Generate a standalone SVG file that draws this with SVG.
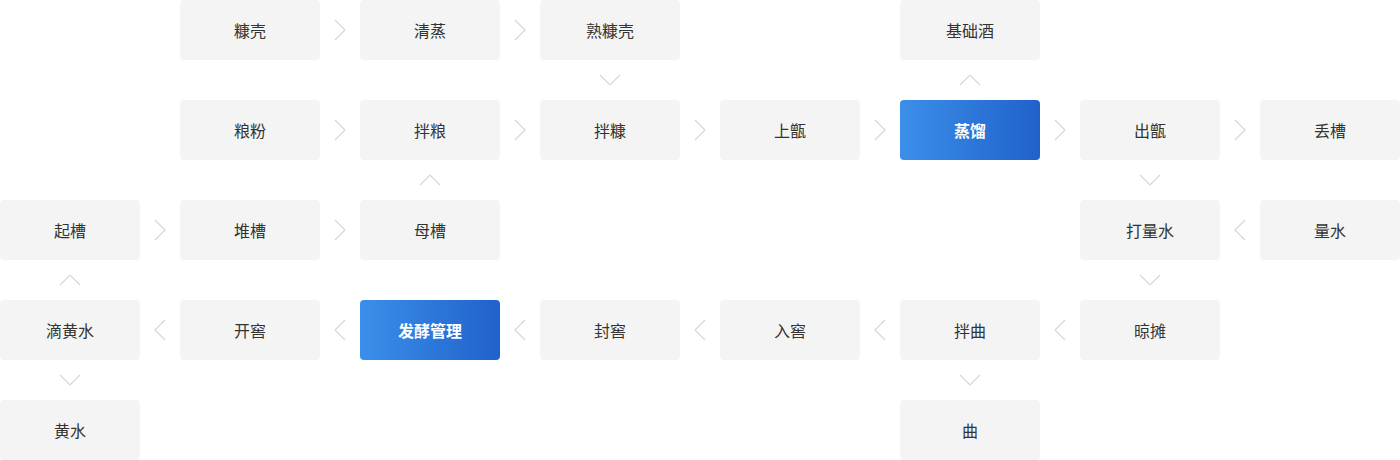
<svg xmlns="http://www.w3.org/2000/svg" width="1400" height="460" viewBox="0 0 1400 460">
<style>
.n rect{fill:#f4f4f4}
.n text{font-family:"Noto Sans CJK SC","Noto Sans",sans-serif;font-size:16px;fill:#333;text-anchor:middle;dominant-baseline:central}
.h rect{fill:url(#g)}
.h text{fill:#fff;font-weight:bold}
.c{fill:none;stroke:#d6d6d6;stroke-width:1.2}
</style>
<defs>
<linearGradient id="g" x1="0" y1="0" x2="1" y2="0">
<stop offset="0" stop-color="#3b8fe9"/>
<stop offset="1" stop-color="#2061cb"/>
</linearGradient>
<path id="r" d="M-5,-10 L5,0 L-5,10"/>
<path id="l" d="M5,-10 L-5,0 L5,10"/>
<path id="u" d="M-10,5 L0,-5 L10,5"/>
<path id="d" d="M-10,-5 L0,5 L10,-5"/>
</defs>
<g id="nodes">
<g id="n-kangke" class="n"><rect x="180" y="0" width="140" height="60" rx="4"/><text x="250" y="30">糠壳</text></g>
<g id="n-qingzheng" class="n"><rect x="360" y="0" width="140" height="60" rx="4"/><text x="430" y="30">清蒸</text></g>
<g id="n-shukangke" class="n"><rect x="540" y="0" width="140" height="60" rx="4"/><text x="610" y="30">熟糠壳</text></g>
<g id="n-jichujiu" class="n"><rect x="900" y="0" width="140" height="60" rx="4"/><text x="970" y="30">基础酒</text></g>
<g id="n-liangfen" class="n"><rect x="180" y="100" width="140" height="60" rx="4"/><text x="250" y="130">粮粉</text></g>
<g id="n-banliang" class="n"><rect x="360" y="100" width="140" height="60" rx="4"/><text x="430" y="130">拌粮</text></g>
<g id="n-bankang" class="n"><rect x="540" y="100" width="140" height="60" rx="4"/><text x="610" y="130">拌糠</text></g>
<g id="n-shangzeng" class="n"><rect x="720" y="100" width="140" height="60" rx="4"/><text x="790" y="130">上甑</text></g>
<g id="n-zhengliu" class="n h"><rect x="900" y="100" width="140" height="60" rx="4"/><text x="970" y="130">蒸馏</text></g>
<g id="n-chuzeng" class="n"><rect x="1080" y="100" width="140" height="60" rx="4"/><text x="1150" y="130">出甑</text></g>
<g id="n-diucao" class="n"><rect x="1260" y="100" width="140" height="60" rx="4"/><text x="1330" y="130">丢槽</text></g>
<g id="n-qicao" class="n"><rect x="0" y="200" width="140" height="60" rx="4"/><text x="70" y="230">起槽</text></g>
<g id="n-duicao" class="n"><rect x="180" y="200" width="140" height="60" rx="4"/><text x="250" y="230">堆槽</text></g>
<g id="n-mucao" class="n"><rect x="360" y="200" width="140" height="60" rx="4"/><text x="430" y="230">母槽</text></g>
<g id="n-daliangshui" class="n"><rect x="1080" y="200" width="140" height="60" rx="4"/><text x="1150" y="230">打量水</text></g>
<g id="n-liangshui" class="n"><rect x="1260" y="200" width="140" height="60" rx="4"/><text x="1330" y="230">量水</text></g>
<g id="n-dihuangshui" class="n"><rect x="0" y="300" width="140" height="60" rx="4"/><text x="70" y="330">滴黄水</text></g>
<g id="n-kaijiao" class="n"><rect x="180" y="300" width="140" height="60" rx="4"/><text x="250" y="330">开窖</text></g>
<g id="n-fajiao" class="n h"><rect x="360" y="300" width="140" height="60" rx="4"/><text x="430" y="330">发酵管理</text></g>
<g id="n-fengjiao" class="n"><rect x="540" y="300" width="140" height="60" rx="4"/><text x="610" y="330">封窖</text></g>
<g id="n-rujiao" class="n"><rect x="720" y="300" width="140" height="60" rx="4"/><text x="790" y="330">入窖</text></g>
<g id="n-banqu" class="n"><rect x="900" y="300" width="140" height="60" rx="4"/><text x="970" y="330">拌曲</text></g>
<g id="n-liangtan" class="n"><rect x="1080" y="300" width="140" height="60" rx="4"/><text x="1150" y="330">晾摊</text></g>
<g id="n-huangshui" class="n"><rect x="0" y="400" width="140" height="60" rx="4"/><text x="70" y="430">黄水</text></g>
<g id="n-qu" class="n"><rect x="900" y="400" width="140" height="60" rx="4"/><text x="970" y="430">曲</text></g>
</g>
<g id="connectors" class="c">
<use href="#r" x="340" y="30"/><use href="#r" x="520" y="30"/>
<use href="#r" x="340" y="130"/><use href="#r" x="520" y="130"/><use href="#r" x="700" y="130"/><use href="#r" x="880" y="130"/><use href="#r" x="1060" y="130"/><use href="#r" x="1240" y="130"/>
<use href="#r" x="160" y="230"/><use href="#r" x="340" y="230"/><use href="#l" x="1240" y="230"/>
<use href="#l" x="160" y="330"/><use href="#l" x="340" y="330"/><use href="#l" x="520" y="330"/><use href="#l" x="700" y="330"/><use href="#l" x="880" y="330"/><use href="#l" x="1060" y="330"/>
<use href="#d" x="610" y="80"/><use href="#d" x="1150" y="180"/><use href="#d" x="1150" y="280"/><use href="#d" x="70" y="380"/><use href="#d" x="970" y="380"/>
<use href="#u" x="970" y="80"/><use href="#u" x="430" y="180"/><use href="#u" x="70" y="280"/>
</g>
</svg>
